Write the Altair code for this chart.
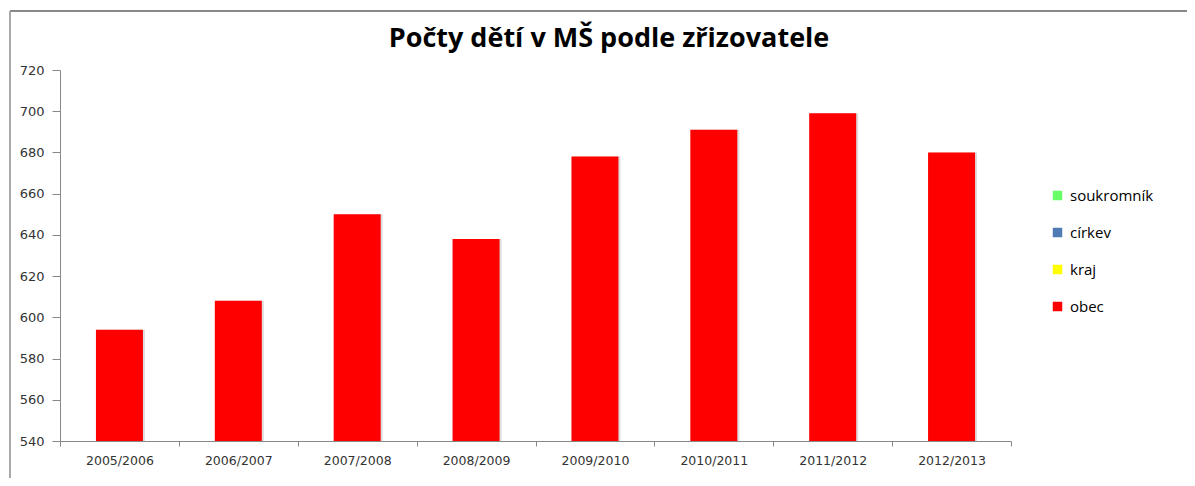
import altair as alt
import pandas as pd

categories = ["2005/2006", "2006/2007", "2007/2008", "2008/2009",
              "2009/2010", "2010/2011", "2011/2012", "2012/2013"]
values = [594, 608, 650, 638, 678, 691, 699, 680]
series_names = ["soukromník", "církev", "kraj", "obec"]
series_colors = ["#66FF66", "#4F7BB5", "#FFFF00", "#FF0000"]
title_text = "Počty dětí v MŠ podle zřizovatele"
y_ticks = list(range(540, 721, 20))

df = pd.DataFrame({"rok": categories, "pocet": values, "zřizovatel": ["obec"] * len(categories)})

W, H = 951, 371

base = alt.Chart(df)

xenc = alt.X("rok:N", sort=categories, title=None,
             scale=alt.Scale(paddingInner=0, paddingOuter=0),
             axis=alt.Axis(labelAngle=0, labelFont="DejaVu Sans", labelFontSize=12.5,
                           labelColor="#333333", labelPadding=8, tickBand="extent",
                           domainColor="#888888", tickColor="#888888", tickSize=5,
                           grid=False))
yenc = alt.Y("pocet:Q", title=None,
             scale=alt.Scale(domain=[540, 720], nice=False, zero=False),
             axis=alt.Axis(values=y_ticks, labelFont="DejaVu Sans", labelFontSize=13,
                           labelColor="#333333", labelPadding=8, grid=False,
                           domainColor="#888888", tickColor="#888888", tickSize=8))

shadow = base.mark_bar(size=47, color="#bbbbbb", opacity=0.5, xOffset=2, clip=True).encode(
    x=xenc, y=yenc, y2=alt.datum(540))

bars = base.mark_bar(size=47, clip=True).encode(
    x=xenc, y=yenc, y2=alt.datum(540),
    color=alt.Color("zřizovatel:N",
                    scale=alt.Scale(domain=series_names, range=series_colors),
                    legend=alt.Legend(title=None, orient="none", legendX=990, legendY=118,
                                      symbolType="square", symbolSize=90,
                                      symbolStrokeWidth=0, labelFont="Open Sans",
                                      labelFontSize=15, labelColor="#000000",
                                      rowPadding=21, labelOffset=5)))

title = alt.Chart(pd.DataFrame({"t": [title_text]})).mark_text(
    font="Open Sans", fontSize=27, fontWeight="bold", color="#000000",
    align="center", baseline="middle").encode(
    text="t:N", x=alt.value(549), y=alt.value(-31))

frame_top = alt.Chart(pd.DataFrame({"a": [0]})).mark_rule(color="#888888", strokeWidth=2).encode(
    x=alt.value(-50), x2=alt.value(1160), y=alt.value(-59))
frame_left = alt.Chart(pd.DataFrame({"a": [0]})).mark_rule(color="#aaaaaa", strokeWidth=2).encode(
    x=alt.value(-50), y=alt.value(-59), y2=alt.value(430))

chart = alt.layer(frame_top, frame_left, shadow, bars, title).properties(
    width=W, height=H,
    background="white",
    autosize=alt.AutoSizeParams(type="none"),
    padding={"left": 52, "top": 62, "right": 176, "bottom": 37},
).configure_view(strokeWidth=0, stroke=None)

chart.save("out.html", embed_options={"renderer": "svg", "actions": False})
